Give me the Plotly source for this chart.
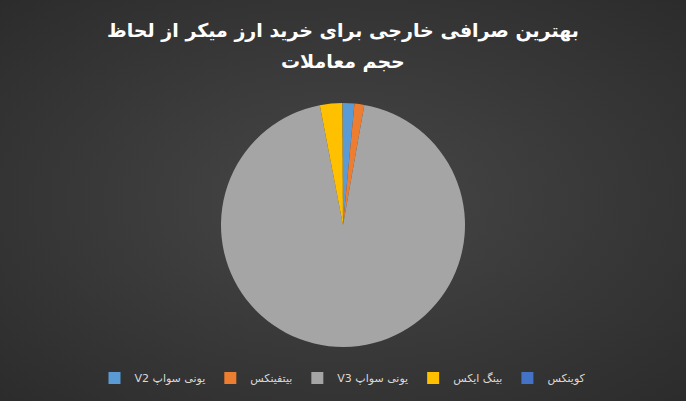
import plotly.graph_objects as go

labels = ["\u202bیونی سواپ V2\u202c", "بیتفینکس", "\u202bیونی سواپ V3\u202c", "بینگ ایکس", "کوینکس"]
values = [1.5, 1.3, 94.2, 3.0, 0.05]
colors = ["#5B9BD5", "#ED7D31", "#A5A5A5", "#FFC000", "#4472C4"]
title_lines = ["بهترین صرافی خارجی برای خرید ارز میکر از لحاظ", "حجم معاملات"]

W, H = 686, 401

bg_svg = (
    "data:image/svg+xml;utf8,"
    "<svg xmlns='http://www.w3.org/2000/svg' width='686' height='401'>"
    "<defs><radialGradient id='g' cx='50%25' cy='50%25' r='75%25'>"
    "<stop offset='0%25' stop-color='%23474747'/>"
    "<stop offset='100%25' stop-color='%232a2a2a'/>"
    "</radialGradient></defs>"
    "<rect width='686' height='401' fill='url(%23g)'/></svg>"
)

fig = go.Figure(go.Pie(
    labels=labels,
    values=values,
    sort=False,
    direction="clockwise",
    rotation=0,
    marker=dict(colors=colors, line=dict(width=0)),
    textinfo="none",
    hoverinfo="label+value",
    domain=dict(x=[(343 - 122) / W, (343 + 122) / W], y=[(176 - 122) / H, (176 + 122) / H]),
))

title_font = dict(family="DejaVu Sans", size=19, color="#ffffff")
fig.update_layout(
    width=W, height=H,
    margin=dict(l=0, r=0, t=0, b=0),
    paper_bgcolor="#3a3a3a",
    plot_bgcolor="rgba(0,0,0,0)",
    images=[dict(source=bg_svg, xref="paper", yref="paper", x=0, y=1, sizex=1, sizey=1,
                 xanchor="left", yanchor="top", sizing="stretch", layer="below")],
    annotations=[
        dict(text="<b>" + title_lines[0] + "</b>", x=0.5, y=1 - 30 / H, xref="paper", yref="paper",
             xanchor="center", yanchor="middle", showarrow=False, font=title_font),
        dict(text="<b>" + title_lines[1] + "</b>", x=0.5, y=1 - 61 / H, xref="paper", yref="paper",
             xanchor="center", yanchor="middle", showarrow=False, font=title_font),
    ],
    showlegend=True,
    legend=dict(
        orientation="h", x=0.5, xanchor="center", y=1 - 378 / H, yanchor="middle",
        font=dict(family="DejaVu Sans", size=11, color="#d9d9d9"),
        bgcolor="rgba(0,0,0,0)", traceorder="normal", itemwidth=30,
    ),
)

fig.write_html("out.html", config={"displayModeBar": False},
               post_script="document.body.style.margin='0';")
